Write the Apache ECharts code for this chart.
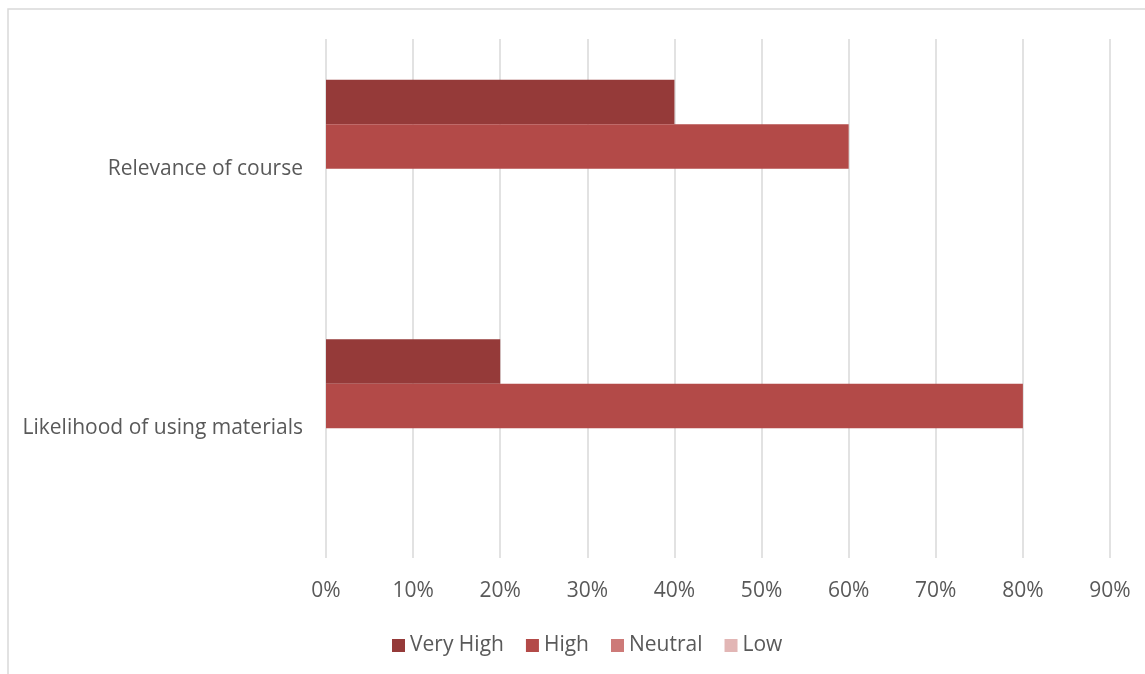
<!DOCTYPE html>
<html>
<head>
<meta charset="utf-8">
<script src="https://cdn.jsdelivr.net/npm/echarts@6/dist/echarts.min.js"></script>
<style>html,body{margin:0;padding:0;background:#fff}#c{width:1145px;height:674px}</style>
</head>
<body>
<div id="c"></div>
<script>
var categories = ['Likelihood of using materials', 'Relevance of course'];
var seriesNames = ['Very High', 'High', 'Neutral', 'Low'];
var veryHigh = [20, 40];
var high = [80, 60];
var neutral = [0, 0];
var low = [0, 0];
var xTicks = [0, 10, 20, 30, 40, 50, 60, 70, 80, 90];

var colors = ['#953A39', '#B34A48', '#CD7A78', '#E2B6B5'];
var values = [veryHigh, high, neutral, low];
var font = '"Open Sans", sans-serif';

var chart = echarts.init(document.getElementById('c'), null, {renderer: 'canvas'});
var series = seriesNames.map(function (n, i) {
  return {
    name: n, type: 'bar', data: values[i],
    itemStyle: {color: colors[i]},
    barGap: '0%', barCategoryGap: '31.4%'
  };
});
chart.setOption({
  animation: false,
  color: colors,
  graphic: [{
    type: 'rect', shape: {x: 8, y: 9, width: 1300, height: 800},
    style: {fill: null, stroke: '#D9D9D9', lineWidth: 1.5}, silent: true, z: -1
  }],
  grid: {left: 326, right: 35, top: 39, bottom: 116, containLabel: false},
  legend: {
    data: seriesNames, bottom: 13, left: 387, icon: 'rect',
    itemWidth: 13, itemHeight: 13, itemGap: 22,
    textStyle: {color: '#595959', fontSize: 21, fontFamily: font}
  },
  xAxis: {
    type: 'value', min: 0, max: 90, interval: 10,
    axisLine: {show: false}, axisTick: {show: false},
    splitLine: {show: true, lineStyle: {color: '#D9D9D9', width: 1.5}},
    axisLabel: {formatter: function (v) { return xTicks.indexOf(v) >= 0 ? v + '%' : ''; }, color: '#595959', fontSize: 21, fontFamily: font, margin: 23}
  },
  yAxis: {
    type: 'category', data: categories,
    axisLine: {show: false}, axisTick: {show: false},
    axisLabel: {color: '#595959', fontSize: 21, fontFamily: font, margin: 23}
  },
  series: series
});
</script>
</body>
</html>
